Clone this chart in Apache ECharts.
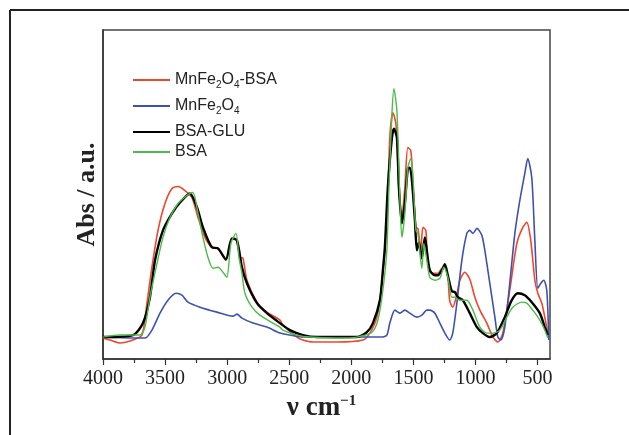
<!DOCTYPE html>
<html lang="en">
<head>
    <meta charset="UTF-8">
    <title>FTIR spectra</title>
    <script src="https://cdn.jsdelivr.net/npm/echarts@6.0.0/dist/echarts.min.js"></script>
    <style>
        html, body {
            margin: 0;
            border: 0;
            background: #fff;
        }

        #chart {
            width: 629px;
            height: 435px;
        }
    </style>
</head>
<body>
<div id="chart"></div>
<script type="text/javascript">
    // wavenumber (cm-1), absorbance (a.u.)
    const mnfeBsa = [
        [4000, 21], [3944, 19], [3863, 16], [3758, 19], [3686, 24], [3646, 56], [3606, 92], [3557, 129],
        [3501, 156], [3444, 171], [3396, 173], [3340, 169], [3284, 162], [3235, 142], [3179, 122], [3123, 112],
        [3074, 111], [3010, 99], [2962, 121], [2929, 120], [2897, 102], [2873, 101], [2841, 79], [2760, 57],
        [2680, 47], [2575, 39], [2551, 34], [2438, 22], [2390, 19], [2309, 17], [2116, 17], [1907, 19],
        [1851, 26], [1794, 42], [1754, 76], [1714, 136], [1690, 222], [1665, 247], [1641, 236], [1617, 172],
        [1593, 142], [1569, 172], [1545, 212], [1521, 209], [1504, 179], [1480, 132], [1464, 131], [1440, 109],
        [1424, 132], [1400, 129], [1384, 96], [1343, 86], [1303, 86], [1271, 91], [1247, 92], [1223, 82],
        [1207, 58], [1183, 52], [1150, 65], [1126, 79], [1086, 87], [1046, 80], [1005, 62], [965, 49],
        [909, 36], [860, 22], [820, 17], [780, 26], [724, 69], [667, 116], [619, 132], [587, 137],
        [555, 119], [522, 79], [498, 66], [466, 56], [442, 42], [418, 26]
    ];
    const mnfe = [
        [4000, 22], [3758, 21], [3662, 21], [3606, 29], [3541, 46], [3477, 59], [3412, 66], [3364, 64],
        [3316, 57], [3219, 52], [3082, 47], [2953, 43], [2921, 45], [2881, 41], [2792, 36], [2680, 32],
        [2575, 26], [2495, 24], [2390, 22], [2116, 22], [1955, 22], [1754, 22], [1714, 24], [1690, 36],
        [1649, 49], [1609, 46], [1569, 49], [1529, 46], [1472, 42], [1432, 44], [1392, 49], [1368, 49],
        [1327, 46], [1287, 36], [1247, 26], [1207, 19], [1183, 26], [1150, 56], [1110, 99], [1070, 126],
        [1046, 129], [1021, 126], [989, 131], [949, 124], [925, 109], [885, 76], [844, 42], [820, 22],
        [796, 19], [764, 32], [724, 76], [683, 126], [643, 159], [603, 186], [579, 201], [547, 182],
        [522, 119], [498, 71], [474, 76], [450, 79], [426, 69], [410, 19]
    ];
    const bsaGlu = [
        [4000, 22], [3758, 24], [3678, 36], [3622, 62], [3581, 99], [3517, 129], [3444, 146], [3380, 157],
        [3300, 166], [3243, 152], [3195, 132], [3123, 112], [3074, 111], [3010, 100], [2962, 121], [2921, 119],
        [2881, 92], [2841, 76], [2760, 56], [2680, 46], [2575, 36], [2495, 29], [2390, 24], [2277, 22],
        [2116, 22], [1955, 22], [1875, 27], [1826, 36], [1770, 59], [1746, 89], [1730, 112], [1706, 172],
        [1673, 222], [1657, 231], [1633, 222], [1617, 172], [1593, 136], [1569, 156], [1545, 191], [1529, 192],
        [1512, 179], [1488, 139], [1472, 109], [1456, 117], [1432, 101], [1408, 122], [1392, 109], [1368, 89],
        [1327, 84], [1303, 84], [1271, 89], [1247, 95], [1223, 84], [1191, 68], [1166, 67], [1142, 62],
        [1102, 59], [1046, 46], [989, 32], [941, 26], [885, 22], [828, 26], [764, 42], [708, 59],
        [659, 66], [603, 64], [547, 57], [482, 46], [442, 32], [418, 24]
    ];
    const bsa = [
        [4000, 22], [3863, 24], [3702, 24], [3662, 32], [3622, 62], [3565, 96], [3517, 122], [3461, 142],
        [3396, 156], [3324, 164], [3276, 167], [3235, 146], [3195, 122], [3155, 102], [3114, 91], [3074, 92],
        [3034, 87], [3002, 82], [2970, 116], [2929, 126], [2905, 102], [2881, 86], [2857, 66], [2800, 52],
        [2736, 44], [2632, 36], [2575, 32], [2551, 29], [2438, 24], [2334, 22], [2116, 21], [1955, 22],
        [1834, 27], [1786, 39], [1746, 69], [1714, 109], [1698, 169], [1673, 246], [1657, 271], [1633, 249],
        [1609, 162], [1593, 122], [1569, 146], [1545, 192], [1521, 201], [1504, 182], [1480, 129], [1464, 126],
        [1432, 91], [1416, 116], [1392, 99], [1368, 82], [1327, 79], [1287, 81], [1255, 92], [1223, 82],
        [1191, 62], [1166, 62], [1126, 59], [1070, 59], [1021, 49], [965, 32], [909, 26], [860, 26],
        [804, 29], [748, 42], [700, 52], [627, 57], [587, 56], [539, 49], [482, 39], [442, 29], [418, 21]
    ];

    const majorTicks = [4000, 3500, 3000, 2500, 2000, 1500, 1000, 500];
    const minorTicks = [3750, 3250, 2750, 2250, 1750, 1250, 750];

    const names = ['MnFe2O4-BSA', 'MnFe2O4', 'BSA-GLU', 'BSA'];
    const colors = ['#f2452c', '#3f51b0', '#000000', '#4dbb47'];
    const widths = [1.6, 1.6, 2.4, 1.4];
    const legendTops = [70, 96, 122, 142];

    const richName = (n) => n.replace(/(\d)/g, '{sub|$1}');

    window.onload = () => {
        const chart = echarts.init(document.querySelector('#chart'));
        const axisColor = '#333';
        const serif = '"Liberation Serif", "DejaVu Serif", serif';
        const seriesData = [mnfeBsa, mnfe, bsaGlu, bsa];
        const drawOrder = [3, 0, 1, 2];

        const option = {
            animation: false,
            backgroundColor: '#fff',
            graphic: [
                {type: 'line', shape: {x1: 10, y1: 10, x2: 629, y2: 10}, style: {stroke: '#222', lineWidth: 2}},
                {type: 'line', shape: {x1: 10, y1: 10, x2: 10, y2: 435}, style: {stroke: '#222', lineWidth: 2}}
            ],
            grid: {
                left: 103, right: 79, top: 30, bottom: 76,
                show: true, borderColor: '#444', borderWidth: 1.5
            },
            legend: names.map((n, i) => ({
                left: 133,
                top: legendTops[i],
                padding: 0,
                data: [n],
                icon: 'rect',
                itemWidth: 37,
                itemHeight: 2,
                formatter: richName,
                textStyle: {
                    fontFamily: '"Liberation Sans", Arial, sans-serif',
                    fontSize: 16,
                    color: '#222',
                    lineHeight: 20,
                    rich: {
                        sub: {fontSize: 10, verticalAlign: 'bottom', lineHeight: 12, padding: [6, 0, 0, 0]}
                    }
                }
            })),
            xAxis: [
                {
                    type: 'value',
                    inverse: true,
                    min: 400,
                    max: 4000,
                    name: '{a|ν cm}{b|−1}',
                    nameLocation: 'middle',
                    nameGap: 35,
                    nameTextStyle: {
                        padding: [0, 10, 0, 0],
                        rich: {
                            a: {fontFamily: serif, fontWeight: 'bold', fontSize: 27, color: '#222'},
                            b: {fontFamily: serif, fontWeight: 'bold', fontSize: 15, color: '#222', verticalAlign: 'top', padding: [0, 0, 14, 0]}
                        }
                    },
                    axisLine: {lineStyle: {color: axisColor, width: 1.5}},
                    axisTick: {customValues: majorTicks, length: 6, lineStyle: {color: axisColor, width: 1.2}},
                    axisLabel: {
                        customValues: majorTicks,
                        formatter: (v) => String(v),
                        margin: 10,
                        fontFamily: serif,
                        fontSize: 20,
                        color: '#222'
                    },
                    splitLine: {show: false}
                },
                {
                    type: 'value',
                    inverse: true,
                    min: 400,
                    max: 4000,
                    position: 'bottom',
                    axisLine: {show: false},
                    axisTick: {customValues: minorTicks, length: 4, lineStyle: {color: axisColor, width: 1.2}},
                    axisLabel: {show: false},
                    splitLine: {show: false}
                }
            ],
            yAxis: {
                type: 'value',
                min: 0,
                max: 330,
                name: 'Abs / a.u.',
                nameLocation: 'middle',
                nameRotate: 90,
                nameGap: 3,
                nameTextStyle: {fontFamily: serif, fontWeight: 'bold', fontSize: 26, color: '#222'},
                axisLine: {show: true, lineStyle: {color: axisColor, width: 1.5}},
                axisTick: {show: false},
                axisLabel: {show: false},
                splitLine: {show: false}
            },
            series: drawOrder.map(i => ({
                name: names[i],
                type: 'line',
                data: seriesData[i],
                showSymbol: false,
                smooth: 0.25,
                color: colors[i],
                lineStyle: {color: colors[i], width: widths[i]},
                z: 2 + i
            }))
        };
        chart.setOption(option);
    };
</script>
</body>
</html>
